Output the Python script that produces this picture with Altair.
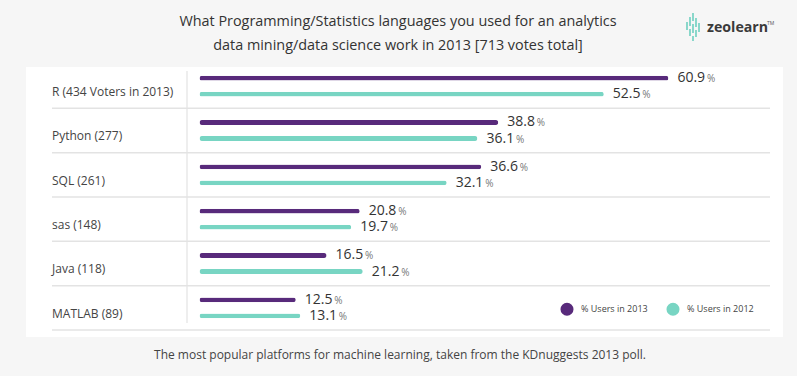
import altair as alt
import pandas as pd

categories = ["R (434 Voters in 2013)", "Python (277)", "SQL (261)", "sas (148)", "Java (118)", "MATLAB (89)"]
users_2013 = [60.9, 38.8, 36.6, 20.8, 16.5, 12.5]
users_2012 = [52.5, 36.1, 32.1, 19.7, 21.2, 13.1]
series = ["% Users in 2013", "% Users in 2012"]
colors = ["#582a7b", "#78d5c3"]

title_lines = ["What Programming/Statistics languages you used for an analytics",
               "data mining/data science work in 2013 [713 votes total]"]
caption = "The most popular platforms for machine learning, taken from the KDnuggests 2013 poll."
logo_text = "zeolearn"

FONT = "Open Sans"

rows = []
for c, a, b in zip(categories, users_2013, users_2012):
    rows.append({"cat": c, "series": series[0], "value": a, "label": f"{a:.1f}"})
    rows.append({"cat": c, "series": series[1], "value": b, "label": f"{b:.1f}"})
df = pd.DataFrame(rows)
cat_df = pd.DataFrame({"cat": categories})
one = pd.DataFrame({"a": [0]})

yscale = alt.Scale(domain=categories, range=[64, 330], paddingInner=0, paddingOuter=0)
xscale = alt.Scale(domain=[0, 70], range=[199.5, 199.5 + 70 * 7.7])
yoff = alt.YOffset("series:N", scale=alt.Scale(domain=series, paddingInner=0.7, paddingOuter=0.735))

panel = alt.Chart(one).mark_rect(fill="white").encode(
    x=alt.value(26), x2=alt.value(783), y=alt.value(67), y2=alt.value(337))

vline = alt.Chart(one).mark_rule(color="#dddddd", strokeWidth=1).encode(
    x=alt.value(187), y=alt.value(71), y2=alt.value(323))

seps = alt.Chart(cat_df).mark_rule(color="#e3e3e3", strokeWidth=1.5).encode(
    y=alt.Y("cat:N", scale=yscale, axis=None, bandPosition=1),
    x=alt.value(52), x2=alt.value(770))

cat_labels = alt.Chart(cat_df).mark_text(align="left", baseline="middle", font=FONT,
                                         fontSize=12, color="#444444").encode(
    y=alt.Y("cat:N", scale=yscale, axis=None, bandPosition=0.63),
    x=alt.value(52), text="cat:N")

bars = alt.Chart(df).mark_bar(cornerRadius=2.4).encode(
    y=alt.Y("cat:N", scale=yscale, axis=None),
    yOffset=yoff,
    x=alt.X("value:Q", scale=xscale, axis=None),
    color=alt.Color("series:N", scale=alt.Scale(domain=series, range=colors),
                    legend=alt.Legend(orient="none", legendX=560, legendY=302,
                                      direction="horizontal", title=None,
                                      symbolType="circle", symbolSize=170,
                                      symbolStrokeWidth=0, labelFontSize=9,
                                      labelColor="#444444", labelFont=FONT,
                                      labelOffset=7, columnPadding=18, padding=0)))

num_labels = alt.Chart(df).mark_text(align="left", baseline="middle", font=FONT,
                                     fontSize=14, color="#333333", dx=9).encode(
    y=alt.Y("cat:N", scale=yscale, axis=None),
    yOffset=yoff,
    x=alt.X("value:Q", scale=xscale, axis=None),
    text="label:N")

pct_labels = alt.Chart(df).mark_text(align="left", baseline="middle", font=FONT,
                                     fontSize=10, color="#777777", dx=38.5, dy=1).encode(
    y=alt.Y("cat:N", scale=yscale, axis=None),
    yOffset=yoff,
    x=alt.X("value:Q", scale=xscale, axis=None),
    text=alt.value("%"))

title = alt.Chart(one).mark_text(align="center", baseline="middle", font=FONT,
                                 fontSize=14.4, color="#333333", lineHeight=24).encode(
    x=alt.value(398), y=alt.value(22), text=alt.value(title_lines))

cap = alt.Chart(one).mark_text(align="center", baseline="middle", font=FONT,
                               fontSize=12, color="#444444").encode(
    x=alt.value(400), y=alt.value(355), text=alt.value(caption))

logo = alt.Chart(one).mark_text(align="left", baseline="middle", font=FONT,
                                fontSize=14.2, fontWeight="bold", color="#3a3a3a").encode(
    x=alt.value(707), y=alt.value(28), text=alt.value(logo_text))
tm = alt.Chart(one).mark_text(align="left", baseline="middle", font=FONT,
                              fontSize=5, color="#555555").encode(
    x=alt.value(767), y=alt.value(23), text=alt.value("TM"))

icon_layers = []
for (xv, y1, y2) in [(687, 22, 30), (690, 17, 26), (690, 29, 36), (693, 13, 21),
                     (693, 24, 33), (693, 36, 41), (696, 18, 27), (696, 30, 37), (699, 23, 32)]:
    icon_layers.append(alt.Chart(one).mark_rule(color="#6fd0c0", strokeWidth=1.6).encode(
        x=alt.value(xv), y=alt.value(y1), y2=alt.value(y2)))

chart = alt.layer(panel, vline, seps, cat_labels, bars, num_labels, pct_labels,
                  title, cap, logo, tm, *icon_layers).properties(
    width=797, height=376, background="#f6f6f6", padding=0,
    autosize=alt.AutoSizeParams(type="none")
).configure_view(stroke=None)

chart.save("out.html", embed_options={"renderer": "svg", "actions": False})
